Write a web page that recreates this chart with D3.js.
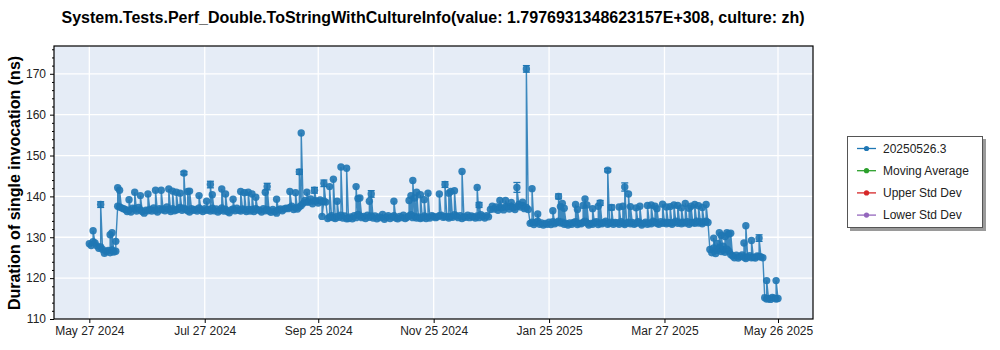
<!DOCTYPE html>
<html>
<head>
<meta charset="utf-8">
<script src="https://cdn.jsdelivr.net/npm/d3@7"></script>
<style>
  html, body { margin: 0; padding: 0; background: #fff; }
  svg { display: block; font-family: "Liberation Sans", Arial, sans-serif; }
</style>
</head>
<body>
<svg id="chart" width="1000" height="350"></svg>
<script>
// Typical daily measurement (ns), one value per day starting 2024-05-27
const startDate = "2024-05-27";
const dailyBase = [
  128.4, 128.0, 128.9, 128.6, 127.9, 127.3, 127.6, 127.0, 126.1, 126.5,
  126.8, 126.2, 126.9, 126.4, 126.6,
  137.6, 137.4, 137.2, 137.0, 136.8, 136.3, 136.6, 136.2, 137.1, 136.9,
  136.4, 137.3, 136.7, 136.3, 135.9, 136.6, 136.5, 136.8, 136.4, 137.2,
  136.6, 136.2, 137.0, 136.7, 136.9, 136.5, 137.4, 136.8, 136.3, 137.0,
  136.5, 136.7, 136.9, 137.3, 136.6, 137.1, 136.8, 136.5, 136.2, 137.0,
  136.6, 136.8, 136.4, 137.2, 136.7, 136.3, 137.0, 136.6, 136.8, 136.4,
  137.1, 136.5, 136.9, 136.2, 136.6, 137.2, 136.4, 136.8, 136.3, 136.0,
  136.7, 136.9, 136.5, 137.1, 136.6, 136.4, 136.9, 136.7, 136.3, 136.8,
  136.4, 136.8, 136.3, 137.0, 136.7, 136.6, 136.2, 137.0, 136.5, 136.8,
  136.4, 136.1, 136.8, 136.3, 135.9, 136.7, 136.9, 136.5, 136.9, 137.1,
  137.0, 137.3, 137.6, 136.8, 137.2, 136.9, 137.4,
  137.8, 138.3, 139.0, 138.6, 138.6, 139.4, 138.2, 138.9, 138.9, 138.4,
  139.1, 138.7, 138.8, 138.6,
  134.6, 134.9, 135.3, 134.8, 134.6, 135.1, 134.9, 135.4, 134.7, 135.2,
  134.5, 134.6, 135.0, 134.5, 135.3, 134.8, 135.6, 135.2, 134.8, 135.1,
  134.6, 135.4, 134.9, 135.2, 134.7, 135.2, 134.5, 135.0, 134.8, 135.6,
  134.4, 134.9, 135.3, 134.6, 135.0, 135.3, 134.7, 134.5, 135.1, 134.8,
  135.4, 134.6, 134.9, 135.2, 135.5, 134.8, 135.1, 134.7, 135.0, 134.6,
  134.8, 135.2, 134.6, 135.0, 134.7, 135.3, 135.1, 134.8, 135.0, 135.3,
  135.4, 134.9, 135.0, 135.1, 134.7, 135.1, 134.9, 135.5, 135.2, 134.8,
  135.3, 134.6, 135.0, 134.9, 135.4, 134.8, 135.2, 135.0, 134.7, 135.2,
  134.8, 135.5, 135.1, 134.7, 135.3, 135.0,
  136.8, 137.6, 136.9, 137.4, 136.6, 137.3, 137.2, 136.7, 137.4, 137.5,
  136.9, 137.6, 137.2, 136.8, 137.5, 138.0, 137.4, 137.8, 137.0, 137.3,
  136.8,
  133.4, 133.7, 133.1, 133.6, 133.9, 133.2, 133.5, 133.0, 133.4, 133.2,
  133.7, 133.1, 133.8, 133.3, 133.6, 133.9, 133.5, 133.7, 133.2, 133.4,
  133.0, 133.5, 133.2, 133.6, 133.8, 133.1, 133.4, 133.3, 133.7, 133.9,
  133.5, 133.0, 133.4, 133.2, 133.6, 133.8, 133.1, 133.5, 133.3, 133.6,
  133.9, 133.2, 133.4, 133.7, 133.2, 133.6, 133.5, 133.2, 133.8, 133.4,
  133.1, 133.5, 133.7, 133.3, 133.6, 133.2, 133.4, 133.8, 133.5, 133.0,
  133.4, 133.7, 133.2, 133.5, 133.3, 133.9, 133.6, 133.4, 133.2, 133.8,
  133.4, 133.7, 133.3, 133.6, 133.5, 133.2, 133.6, 133.9, 133.4, 133.7,
  133.3, 133.7, 133.5, 133.8, 133.2, 133.6, 133.6, 133.4, 133.9, 133.5,
  133.8, 133.3, 133.7, 133.9, 133.6,
  127.0, 126.2, 127.4, 126.0, 126.8, 127.3, 126.5, 126.9, 126.3, 127.1,
  126.6,
  125.8, 125.4, 125.0, 125.6, 124.9, 125.3, 125.7, 125.1, 124.8, 125.2,
  125.5, 125.0, 125.1, 124.9, 125.4, 125.3, 125.2, 125.0,
  115.2, 114.9, 115.0, 114.8, 115.3, 115.1, 114.9, 115.0
];

// Extra slow runs recorded on the same day (day offset, ns)
const spikeDays = [
  2, 6, 11, 12, 14, 15, 16, 21, 24, 27, 31, 35, 38, 42, 44, 46, 48, 50, 52, 53,
  58, 62, 64, 65, 70, 72, 76, 80, 82, 84, 86, 88, 93, 94, 99, 106, 109, 111, 112, 115,
  119, 123, 124, 127, 129, 131, 133, 136, 141, 142, 143, 148, 149, 161, 169, 170, 171, 172, 173, 175,
  177, 179, 185, 188, 190, 191, 193, 197, 205, 206, 217, 220, 223, 226, 229, 231, 234, 237, 245, 248,
  249, 250, 251, 257, 258, 261, 262, 263, 266, 269, 270, 274, 276, 280, 282, 283, 285, 286, 289, 291,
  295, 297, 299, 300, 303, 305, 307, 309, 311, 313, 315, 317, 318, 320, 322, 324, 326, 330, 332, 333,
  334, 335, 336, 337, 338, 339, 346, 347, 350, 354, 358, 363
];
const spikeValues = [
  131.6, 138.0, 130.6, 131.1, 129.0, 142.1, 141.5, 139.2, 141.0, 140.2, 140.6, 141.5, 141.5, 141.8, 141.3, 141.0, 140.8, 145.7, 141.2, 141.3,
  140.2, 138.8, 142.9, 140.4, 141.8, 140.6, 139.3, 141.2, 140.9, 141.0, 140.6, 139.8, 141.0, 142.4, 139.3, 141.2, 140.9, 146.0, 155.5, 141.0,
  141.5, 135.1, 143.2, 142.4, 144.2, 138.8, 147.2, 146.9, 142.4, 139.5, 139.6, 138.8, 140.6, 138.8, 139.0, 140.2, 143.9, 139.6, 141.0, 140.4,
  139.2, 140.8, 140.6, 142.9, 140.8, 141.2, 141.4, 146.1, 142.2, 137.9, 139.0, 139.0, 138.5, 142.2, 138.6, 171.2, 141.9, 135.7, 136.5, 140.0,
  137.5, 138.3, 137.1, 138.0, 136.8, 137.8, 139.4, 137.9, 137.0, 137.6, 138.4, 146.4, 137.3, 137.4, 137.6, 142.3, 140.6, 137.5, 137.2, 137.6,
  137.8, 137.9, 137.6, 137.0, 138.1, 137.4, 137.5, 137.9, 137.8, 137.2, 138.3, 137.1, 137.6, 138.0, 137.7, 137.3, 138.0, 129.8, 128.5, 131.1,
  130.5, 127.8, 130.2, 131.1, 130.8, 131.0, 128.6, 132.8, 129.2, 129.8, 119.4, 119.4
];

// Standard deviation whiskers on the slow runs (day offset, ns)
const errDays = [6, 50, 64, 94, 111, 119, 124, 149, 188, 206, 226, 231, 248, 270, 274, 276, 283, 354];
const errSize = [0.7, 0.4, 0.8, 0.8, 0.6, 0.7, 0.8, 0.8, 0.7, 0.6, 1.2, 0.8, 0.6, 0.6, 0.4, 0.6, 1.0, 0.8];

const xTickDates = ["2024-05-27", "2024-07-27", "2024-09-25", "2024-11-25", "2025-01-25", "2025-03-27", "2025-05-26"];
const yTicks = [110, 120, 130, 140, 150, 160, 170];

const legendNames  = ["20250526.3", "Moving Average", "Upper Std Dev", "Lower Std Dev"];
const legendColors = ["#1f77b4", "#2ca02c", "#d62728", "#9467bd"];

const titleText = "System.Tests.Perf_Double.ToStringWithCultureInfo(value: 1.7976931348623157E+308, culture: zh)";
const yLabelText = "Duration of single invocation (ns)";

const svg = d3.select("#chart");
const plot = { left: 54, right: 813, top: 46, bottom: 319 };

const day0 = new Date(startDate + "T00:00:00Z");
const spikeByDay = new Map(spikeDays.map((d, k) => [d, spikeValues[k]]));

// Build the run sequence: the day's typical run followed by any slow run that day
const points = [];
dailyBase.forEach((v, i) => {
  const date = d3.utcDay.offset(day0, i);
  points.push({ date, value: v });
  if (spikeByDay.has(i)) points.push({ date, value: spikeByDay.get(i) });
});

const x = d3.scaleUtc()
  .domain([new Date("2024-05-08T08:00:00Z"), new Date("2025-06-13T12:00:00Z")])
  .range([plot.left, plot.right]);
const y = d3.scaleLinear().domain([110, 176.8]).range([plot.bottom, plot.top]);

// Plot background
svg.append("rect")
  .attr("x", plot.left).attr("y", plot.top)
  .attr("width", plot.right - plot.left).attr("height", plot.bottom - plot.top)
  .attr("fill", "#e5ecf6");

const xTicks = xTickDates.map(s => new Date(s + "T00:00:00Z"));

// Grid
const grid = svg.append("g").attr("stroke", "#fff").attr("stroke-width", 1.3);
grid.selectAll("line.v").data(xTicks).join("line")
  .attr("x1", d => x(d)).attr("x2", d => x(d))
  .attr("y1", plot.top).attr("y2", plot.bottom);
grid.selectAll("line.h").data(yTicks.slice(1)).join("line")
  .attr("x1", plot.left).attr("x2", plot.right)
  .attr("y1", d => y(d)).attr("y2", d => y(d));

// Series line
const g = svg.append("g");
g.append("path")
  .datum(points)
  .attr("fill", "none")
  .attr("stroke", "#1f77b4")
  .attr("stroke-width", 1.4)
  .attr("stroke-opacity", 0.85)
  .attr("d", d3.line().x(d => x(d.date)).y(d => y(d.value)));

// Error bars
const errs = errDays.map((day, k) => ({
  date: d3.utcDay.offset(day0, day),
  value: spikeByDay.has(day) ? spikeByDay.get(day) : dailyBase[day],
  e: errSize[k]
}));
const eb = g.append("g").attr("stroke", "#1f77b4").attr("stroke-width", 1.3);
eb.selectAll("line.stem").data(errs).join("line")
  .attr("x1", d => x(d.date)).attr("x2", d => x(d.date))
  .attr("y1", d => y(d.value - d.e)).attr("y2", d => y(d.value + d.e));
eb.selectAll("line.top").data(errs).join("line")
  .attr("x1", d => x(d.date) - 3.5).attr("x2", d => x(d.date) + 3.5)
  .attr("y1", d => y(d.value + d.e)).attr("y2", d => y(d.value + d.e));
eb.selectAll("line.bot").data(errs).join("line")
  .attr("x1", d => x(d.date) - 3.5).attr("x2", d => x(d.date) + 3.5)
  .attr("y1", d => y(d.value - d.e)).attr("y2", d => y(d.value - d.e));

// Markers
g.selectAll("circle").data(points).join("circle")
  .attr("cx", d => x(d.date)).attr("cy", d => y(d.value))
  .attr("r", 3.7)
  .attr("fill", "#1f77b4")
  .attr("fill-opacity", 0.9);

// Frame
svg.append("rect")
  .attr("x", plot.left).attr("y", plot.top)
  .attr("width", plot.right - plot.left).attr("height", plot.bottom - plot.top)
  .attr("fill", "none").attr("stroke", "#000").attr("stroke-width", 1.2);

// Axes
const fmt = d3.utcFormat("%b %d %Y");
svg.append("g")
  .attr("transform", `translate(0,${plot.bottom})`)
  .call(d3.axisBottom(x).tickValues(xTicks).tickFormat(fmt).tickSize(4).tickPadding(3));
svg.append("g")
  .attr("transform", `translate(${plot.left},0)`)
  .call(d3.axisLeft(y).tickValues(yTicks).tickSize(4).tickPadding(4));
const yMinor = d3.range(112, 177, 2).filter(v => v % 10 !== 0);
svg.append("g")
  .attr("transform", `translate(${plot.left},0)`)
  .call(d3.axisLeft(y).tickValues(yMinor).tickSize(2).tickFormat(""));

svg.selectAll(".domain").remove();
svg.selectAll(".tick text")
  .attr("font-size", 12)
  .attr("fill", "#222")
  .attr("font-family", "\"Liberation Sans\", Arial, sans-serif");
svg.selectAll(".tick line").attr("stroke", "#000");

// Title
svg.append("text")
  .attr("x", 433).attr("y", 23)
  .attr("text-anchor", "middle")
  .attr("font-size", 16)
  .attr("font-weight", "bold")
  .attr("fill", "#000")
  .text(titleText);

// Y axis label
svg.append("text")
  .attr("transform", `translate(20,183) rotate(-90)`)
  .attr("text-anchor", "middle")
  .attr("font-size", 16)
  .attr("font-weight", "bold")
  .attr("fill", "#000")
  .text(yLabelText);

// Legend
const lg = svg.append("g");
lg.append("rect")
  .attr("x", 850).attr("y", 139).attr("width", 136).attr("height", 92)
  .attr("fill", "#9a9a9a");
lg.append("rect")
  .attr("x", 847.5).attr("y", 136.5).attr("width", 135).attr("height", 91)
  .attr("fill", "#fff").attr("stroke", "#555").attr("stroke-width", 1);
const items = lg.selectAll("g.item").data(legendNames).join("g")
  .attr("transform", (d, i) => `translate(0,${148.5 + i * 22.2})`);
items.append("line")
  .attr("x1", 857).attr("x2", 876).attr("y1", 0).attr("y2", 0)
  .attr("stroke", (d, i) => legendColors[i]).attr("stroke-width", 1.3);
items.append("circle")
  .attr("cx", 866.5).attr("cy", 0).attr("r", 2.6)
  .attr("fill", (d, i) => legendColors[i]);
items.append("text")
  .attr("x", 883).attr("y", 4)
  .attr("font-size", 12)
  .attr("fill", "#222")
  .text(d => d);
</script>
</body>
</html>
